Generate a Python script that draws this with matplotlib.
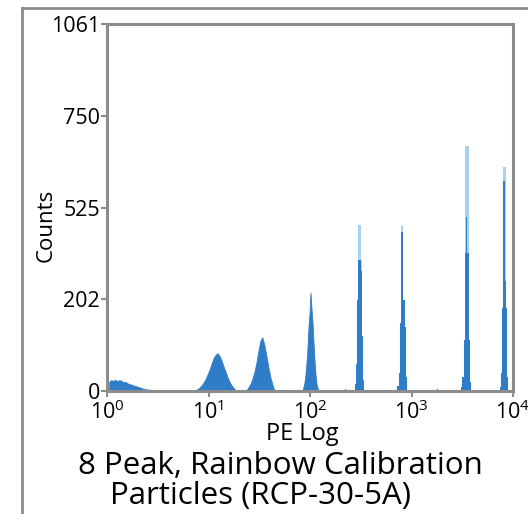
import numpy as np
import matplotlib
matplotlib.use("Agg")
import matplotlib.pyplot as plt
from matplotlib.lines import Line2D

plt.rcParams['font.family'] = ['Open Sans', 'DejaVu Sans']
plt.rcParams['mathtext.fontset'] = 'custom'
plt.rcParams['mathtext.rm'] = 'Open Sans'
plt.rcParams['mathtext.it'] = 'Open Sans:italic'

# y axis tick labels sit at equal spacing in the original picture
count_ticks = [0, 202, 525, 750, 1061]

# histogram segments: start in log10 PE, bin width in log10, counts
# (tall peaks also have a "core" profile drawn darker over the light outline)
spike_start, spike_step = 0.0, 0.006
spike_counts = [205, 60]

noise_start, noise_step = 0.012, 0.02
noise_counts = [20, 24, 22, 25, 21, 24, 22, 19, 20, 17, 15, 14, 12, 11,
                9, 8, 6, 5, 4, 3, 3, 2, 2, 1, 1, 1, 0]

peak1_start, peak1_step = 0.86, 0.02
peak1_counts = [0, 4, 7, 12, 18, 26, 36, 47, 60, 72, 80, 83, 77, 66, 53,
                41, 29, 19, 11, 6, 0]

peak2_start, peak2_step = 1.36, 0.02
peak2_counts = [0, 7, 14, 25, 40, 60, 86, 110, 118, 102, 78, 52, 30, 14, 0]

peak3_start, peak3_step = 1.92, 0.01
peak3_counts = [0, 8, 18, 35, 60, 95, 140, 170, 225, 180, 150, 105, 65,
                35, 15, 6, 0]

blip1_start, blip1_step = 2.33, 0.01
blip1_counts = [3, 5, 3]

peak4_start, peak4_step = 2.44, 0.012
peak4_counts = [15, 60, 200, 464, 464, 340, 120, 25]
peak4_core = [15, 60, 200, 341, 341, 300, 120, 25]

peak5_start, peak5_step = 2.86, 0.012
peak5_counts = [10, 40, 150, 459, 459, 200, 140, 30]
peak5_core = [10, 40, 150, 440, 440, 200, 140, 30]

blip2_start, blip2_step = 3.24, 0.01
blip2_counts = [3, 4, 3]

peak6_start, peak6_step = 3.49, 0.012
peak6_counts = [8, 30, 112, 676, 676, 676, 112, 20]
peak6_core = [8, 30, 112, 365, 490, 365, 112, 20]

peak7_start, peak7_step = 3.87, 0.012
peak7_counts = [8, 40, 182, 624, 624, 182, 30]
peak7_core = [8, 40, 182, 590, 266, 182, 30]

# broad shapes are drawn as a smooth outline through the bin centres
smooth_segments = [
    (noise_start, noise_step, noise_counts),
    (peak1_start, peak1_step, peak1_counts),
    (peak2_start, peak2_step, peak2_counts),
    (peak3_start, peak3_step, peak3_counts),
]
step_segments = [
    (spike_start, spike_step, spike_counts, None),
    (blip1_start, blip1_step, blip1_counts, None),
    (peak4_start, peak4_step, peak4_counts, peak4_core),
    (peak5_start, peak5_step, peak5_counts, peak5_core),
    (blip2_start, blip2_step, blip2_counts, None),
    (peak6_start, peak6_step, peak6_counts, peak6_core),
    (peak7_start, peak7_step, peak7_counts, peak7_core),
]

tick_pos = np.arange(len(count_ticks), dtype=float)


def fwd(y):
    return np.interp(y, count_ticks, tick_pos)


def inv(u):
    return np.interp(u, tick_pos, count_ticks)


fig = plt.figure(figsize=(5.28, 5.14), dpi=100)
ax = fig.add_axes([107 / 528, 1 - 391 / 514, (513 - 107) / 528, (391 - 24) / 514])
ax.set_xscale('log')
ax.set_yscale('function', functions=(fwd, inv))

dark = '#2f7cc8'
light = '#a6d2f1'


def draw_step(start, step, counts, color):
    edges = 10 ** (start + step * np.arange(len(counts) + 1))
    vals = np.append(counts, counts[-1])
    ax.fill_between(edges, 0, vals, step='post', color=color, lw=0)


for start, step, counts in smooth_segments:
    centers = 10 ** (start + step * (np.arange(len(counts)) + 0.5))
    ax.fill_between(centers, 0, counts, color=dark, lw=0.6, edgecolor=dark)

for start, step, counts, core in step_segments:
    if core is None:
        draw_step(start, step, counts, dark)
    else:
        draw_step(start, step, counts, light)
        draw_step(start, step, core, dark)

ax.set_xlim(1, 1e4)
ax.set_ylim(0, 1061)
ax.set_yticks(count_ticks)
ax.set_yticklabels([str(c) for c in count_ticks])
ax.set_xticks([1, 10, 100, 1000, 10000])
ax.minorticks_off()

spine_gray = '#8c8c8c'
for s in ax.spines.values():
    s.set_color(spine_gray)
    s.set_linewidth(2.2)
ax.tick_params(colors=spine_gray, labelcolor='black', labelsize=15.5,
               length=4, width=1.5)
ax.tick_params(axis='y', pad=1)
ax.tick_params(axis='x', pad=3)

ax.set_ylabel('Counts', fontsize=16)
ax.yaxis.set_label_coords(-0.15, 0.45)
ax.set_xlabel('PE Log', fontsize=17)
ax.xaxis.set_label_coords(0.48, -0.117)
ax.xaxis.label.set_va('center')
ax.yaxis.label.set_va('center')

fig.text(280 / 528, 1 - 466 / 514, '8 Peak, Rainbow Calibration',
         ha='center', va='center', fontsize=22.5)
fig.text(260 / 528, 1 - 496 / 514, 'Particles (RCP-30-5A)',
         ha='center', va='center', fontsize=22.5)

# outer frame around the panel (left and top edges visible)
fig.add_artist(Line2D([22 / 528, 22 / 528], [0, 1 - 8 / 514],
                      color=spine_gray, lw=2, transform=fig.transFigure))
fig.add_artist(Line2D([22 / 528, 1], [1 - 8 / 514, 1 - 8 / 514],
                      color=spine_gray, lw=2, transform=fig.transFigure))

fig.savefig('out.png', dpi=100)
